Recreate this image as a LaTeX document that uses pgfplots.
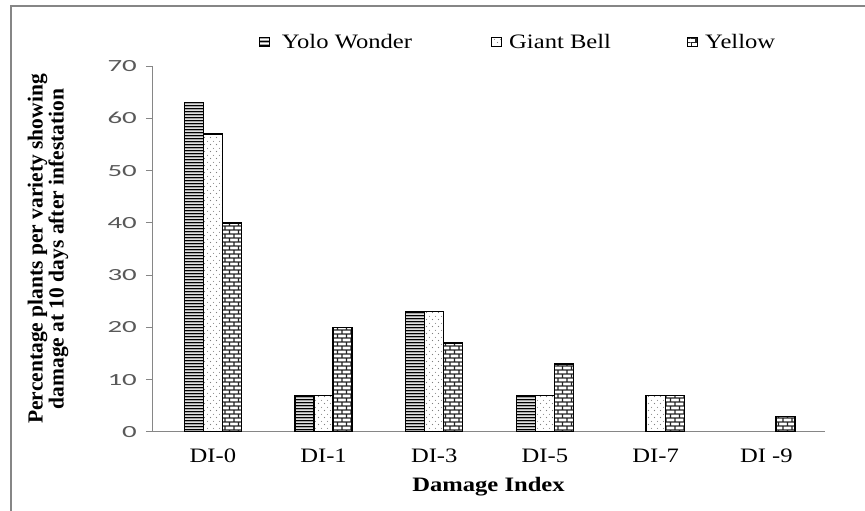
\documentclass[border=0pt]{standalone}
\usepackage{fontspec}
\setmainfont{Liberation Serif}[FakeStretch=1.2]
\newfontfamily\ylabfont{Liberation Serif}
\newfontfamily\tickfont{Carlito}[FakeStretch=1.7]
\usepackage{pgfplots}
\pgfplotsset{compat=1.18}
\usetikzlibrary{patterns}

\definecolor{axgray}{HTML}{868686}
\definecolor{tickgray}{HTML}{595959}

\pgfdeclarepatternformonly{yolo}{\pgfpointorigin}{\pgfpoint{4pt}{3.4pt}}{\pgfpoint{4pt}{3.4pt}}{%
  \pgfsetlinewidth{1.9pt}%
  \pgfpathmoveto{\pgfpoint{0pt}{1.7pt}}\pgfpathlineto{\pgfpoint{4pt}{1.7pt}}%
  \pgfusepath{stroke}}

\pgfdeclarepatternformonly{gbdots}{\pgfpointorigin}{\pgfpoint{6pt}{6.6pt}}{\pgfpoint{6pt}{6.6pt}}{%
  \pgfpathcircle{\pgfpoint{1.5pt}{1.6pt}}{0.55pt}%
  \pgfpathcircle{\pgfpoint{4.5pt}{4.9pt}}{0.55pt}%
  \pgfusepath{fill}}

\pgfdeclarepatternformonly{ybricks}{\pgfpointorigin}{\pgfpoint{9pt}{8pt}}{\pgfpoint{9pt}{8pt}}{%
  \pgfsetlinewidth{1.3pt}%
  \pgfpathmoveto{\pgfpoint{0pt}{2pt}}\pgfpathlineto{\pgfpoint{9pt}{2pt}}%
  \pgfpathmoveto{\pgfpoint{0pt}{6pt}}\pgfpathlineto{\pgfpoint{9pt}{6pt}}%
  \pgfpathmoveto{\pgfpoint{1pt}{2pt}}\pgfpathlineto{\pgfpoint{1pt}{6pt}}%
  \pgfpathmoveto{\pgfpoint{5.5pt}{6pt}}\pgfpathlineto{\pgfpoint{5.5pt}{8pt}}%
  \pgfpathmoveto{\pgfpoint{5.5pt}{0pt}}\pgfpathlineto{\pgfpoint{5.5pt}{2pt}}%
  \pgfusepath{stroke}}

\begin{document}
\begin{tikzpicture}
\useasboundingbox (0,0) rectangle (865bp,511bp);
\fill[white] (0,0) rectangle (865bp,511bp);
\draw[color=gray!95, line width=2bp] (11bp,0) -- (11bp,505bp) -- (866bp,505bp);
\begin{axis}[
  at={(152bp,79bp)}, anchor=south west,
  scale only axis, width=673bp, height=366bp,
  ybar,
  xmin=-0.55, xmax=5.53, ymin=0, ymax=70,
  bar width=0.172,
  axis lines*=left,
  axis line style={axgray, line width=1bp},
  xtick={0,1,2,3,4,5},
  xticklabels={DI-0,DI-1,DI-3,DI-5,DI-7,DI -9},
  x tick style={draw=none},
  ytick={0,10,...,70},
  y tick style={axgray, line width=1bp},
  tick align=outside,
  major tick length=6bp,
  /pgf/number format/assume math mode=true,
  xticklabel style={font=\fontsize{20.5bp}{24bp}\selectfont, anchor=center, inner sep=0pt, yshift=-18bp},
  yticklabel style={font=\tickfont\fontsize{17bp}{19bp}\selectfont, color=tickgray, anchor=east, inner sep=0pt, xshift=-9bp},
  xlabel={\bfseries Damage Index},
  every axis x label/.style={at={(axis description cs:0.5,-0.150)}, anchor=center, font=\fontsize{20.5bp}{24bp}\selectfont},
  ylabel={Percentage plants per variety showing\\damage at 10 days after infestation},
  every axis y label/.style={at={(axis description cs:-0.1545,0.5)}, anchor=center, rotate=90, align=center, font=\ylabfont\bfseries\fontsize{21.5bp}{21bp}\selectfont},
  legend style={at={(axis description cs:0.543,1.066)}, anchor=center, draw=none, fill=none,
    legend columns=3, font=\fontsize{20.5bp}{24bp}\selectfont,
    /tikz/every even column/.append style={column sep=75bp},
    nodes={inner sep=1bp}},
  legend image code/.code={\draw[#1, line width=1.2bp] (0bp,-4.5bp) rectangle (10bp,4.5bp);},
  legend cell align=left,
]
\addplot[draw=black, line width=1.3bp, pattern=yolo, pattern color=black, bar shift=-0.172]
  coordinates {(0,63) (1,7) (2,23) (3,7)};
\addplot[draw=black, line width=1.3bp, pattern=gbdots, pattern color=gray, bar shift=0]
  coordinates {(0,57) (1,7) (2,23) (3,7) (4,7)};
\addplot[draw=black, line width=1.3bp, pattern=ybricks, pattern color=black!85, bar shift=0.172]
  coordinates {(0,40) (1,20) (2,17) (3,13) (4,7) (5,3)};
\legend{\hspace{11bp}Yolo Wonder\hbox to 3bp{},\hspace{6bp}Giant Bell,\hspace{6bp}Yellow}
\end{axis}
\end{tikzpicture}
\end{document}
